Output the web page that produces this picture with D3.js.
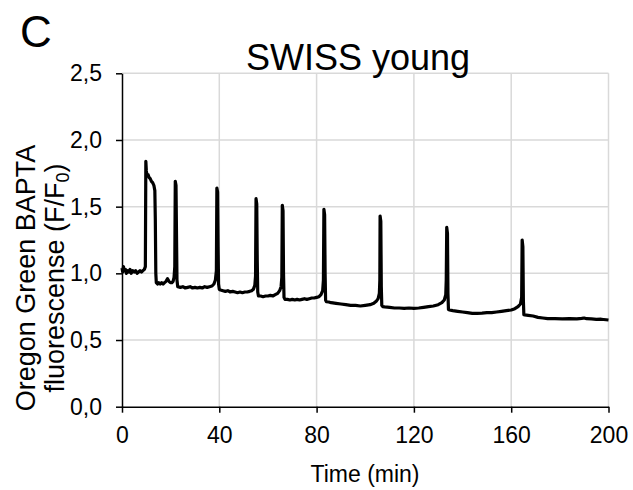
<!DOCTYPE html>
<html>
<head>
<meta charset="utf-8">
<script src="https://cdn.jsdelivr.net/npm/d3@7"></script>
<style>
    body { margin: 0; background: #fff; }
    text { font-family: "Liberation Sans", Arial, sans-serif; fill: #000; }
</style>
</head>
<body>
<svg id="chart-svg" width="633" height="490"></svg>
<script>
// time in minutes
var timeMin = [
    0, 0.3, 0.6, 1, 1.4, 1.8, 2.3, 2.8, 3.3, 3.8, 4.4, 5, 5.6, 6.2, 6.8, 7.4, 8, 8.6, 9.2, 9.6,
    9.8, 10.0, 10.3, 10.7, 11.1, 11.6, 12.1, 12.6, 13.1, 13.5, 13.7, 13.9, 14.1, 14.6, 15.1, 15.7, 16.3, 16.9, 17.5, 18.1, 18.7, 19.3, 19.9, 20.5, 21.0, 21.4, 21.7,
    21.9, 22.2, 22.4, 22.6, 22.9,
    24, 25, 26, 27, 28, 29, 30, 31, 32, 33, 34, 35, 36, 37, 37.8, 38.4, 38.8,
    39.0, 39.3, 39.5, 39.7, 40,
    40.5, 41.5, 42.5, 43.5, 44.5, 45.5, 46.5, 47.5, 48.5, 49.5, 50.5, 51.5, 52.5, 53.3, 54, 54.6, 54.9,
    55.1, 55.4, 55.6, 55.8, 56.1,
    57, 58, 59, 60, 61, 62, 63, 64, 64.8, 65.4, 65.7,
    65.9, 66.2, 66.4, 66.6, 67,
    68, 69, 70, 71, 72, 73, 74, 75, 76, 77, 78, 79, 80, 81, 81.8, 82.5, 82.8,
    83.0, 83.3, 83.5, 83.7, 84,
    85, 86, 88, 90, 92, 94, 96, 98, 100, 102, 103.5, 104.5, 105.3, 105.8, 106.0,
    106.1, 106.4, 106.6, 106.8, 107.2,
    108, 110, 112, 114, 116, 118, 120, 122, 124, 126, 128, 130, 131.5, 132.5, 133.1, 133.3,
    133.5, 133.8, 134.0, 134.2, 134.6,
    136, 138, 140, 142, 144, 146, 148, 150, 152, 154, 156, 158, 160, 161.5, 162.8, 163.8, 164.3,
    164.5, 164.8, 165.0, 165.2, 165.6,
    167, 169, 171, 173, 175, 178, 181, 184, 187, 189, 190, 191, 193, 195, 197, 199, 200
]
// Oregon Green BAPTA F/F0
var fluo = [
    1.04, 1.01, 1.05, 1.02, 1.03, 1.00, 1.02, 1.01, 1.03, 1.00, 1.02, 1.01, 1.02, 1.00, 1.01, 1.02, 1.01, 1.02, 1.03, 1.05,
    1.84, 1.77, 1.73, 1.74, 1.72, 1.71, 1.69, 1.68, 1.66, 1.62, 1.40, 1.00, 0.93, 0.92, 0.93, 0.92, 0.93, 0.92, 0.93, 0.94, 0.96, 0.94, 0.93, 0.93, 0.94, 0.97, 1.05,
    1.69, 1.66, 1.30, 0.95, 0.90,
    0.895, 0.90, 0.89, 0.895, 0.90, 0.89, 0.895, 0.89, 0.895, 0.89, 0.90, 0.895, 0.90, 0.905, 0.92, 0.95, 1.02,
    1.64, 1.61, 1.20, 0.92, 0.88,
    0.875, 0.87, 0.865, 0.87, 0.86, 0.865, 0.86, 0.855, 0.86, 0.855, 0.86, 0.86, 0.865, 0.87, 0.88, 0.91, 0.98,
    1.56, 1.52, 1.10, 0.86, 0.83,
    0.83, 0.825, 0.83, 0.83, 0.835, 0.83, 0.84, 0.85, 0.87, 0.90, 0.97,
    1.51, 1.47, 1.00, 0.82, 0.805,
    0.805, 0.80, 0.805, 0.80, 0.805, 0.80, 0.805, 0.81, 0.805, 0.81, 0.815, 0.815, 0.82, 0.825, 0.84, 0.87, 0.95,
    1.48, 1.44, 1.00, 0.80, 0.787,
    0.785, 0.78, 0.775, 0.77, 0.765, 0.76, 0.76, 0.755, 0.76, 0.765, 0.775, 0.79, 0.81, 0.85, 0.95,
    1.43, 1.39, 0.90, 0.76, 0.75,
    0.748, 0.745, 0.74, 0.74, 0.738, 0.74, 0.738, 0.74, 0.745, 0.75, 0.755, 0.765, 0.78, 0.80, 0.84, 0.95,
    1.345, 1.30, 0.85, 0.73, 0.725,
    0.72, 0.715, 0.71, 0.705, 0.70, 0.70, 0.702, 0.705, 0.705, 0.71, 0.715, 0.72, 0.725, 0.735, 0.75, 0.77, 0.82,
    1.25, 1.20, 0.80, 0.69, 0.688,
    0.685, 0.68, 0.67, 0.665, 0.66, 0.66, 0.658, 0.66, 0.658, 0.662, 0.665, 0.66, 0.658, 0.655, 0.656, 0.652, 0.65
]
var xTicks = [0, 40, 80, 120, 160, 200]
var yTicks = [0, 0.5, 1.0, 1.5, 2.0, 2.5]

var svg = d3.select('#chart-svg')

var conf = { left: 122, right: 608.5, top: 73.3, bottom: 406.7 }

var x = d3.scaleLinear().domain([0, 200]).range([conf.left, conf.right])
var y = d3.scaleLinear().domain([0, 2.5]).range([conf.bottom, conf.top])

// grid
svg.append('g').selectAll('line').data(yTicks.slice(1)).join('line')
    .attr('x1', conf.left).attr('x2', conf.right)
    .attr('y1', d => y(d)).attr('y2', d => y(d))
    .attr('stroke', '#d9d9d9').attr('stroke-width', 1.5)
svg.append('g').selectAll('line').data(xTicks.slice(1)).join('line')
    .attr('x1', d => x(d)).attr('x2', d => x(d))
    .attr('y1', conf.top).attr('y2', conf.bottom)
    .attr('stroke', '#d9d9d9').attr('stroke-width', 1.5)

var fmt = d => d3.format('.1f')(d).replace('.', ',')

// axes
var xAxis = svg.append('g')
    .attr('transform', 'translate(0,' + conf.bottom + ')')
    .call(d3.axisBottom(x).tickValues(xTicks).tickSize(6).tickSizeOuter(0).tickPadding(14))
var yAxis = svg.append('g')
    .attr('transform', 'translate(' + conf.left + ',0)')
    .call(d3.axisLeft(y).tickValues(yTicks).tickFormat(fmt).tickSize(6).tickSizeOuter(0).tickPadding(14))
svg.selectAll('.domain, .tick line').attr('stroke', '#000').attr('stroke-width', 1.5)
xAxis.selectAll('text').attr('font-size', 23).attr('font-family', 'Liberation Sans')
yAxis.selectAll('text').attr('font-size', 23).attr('font-family', 'Liberation Sans')

// trace
var pts = timeMin.map((t, i) => [t, fluo[i]])
var line = d3.line().x(d => x(d[0])).y(d => y(d[1]))
svg.append('path')
    .attr('d', line(pts))
    .attr('fill', 'none')
    .attr('stroke', '#000')
    .attr('stroke-width', 3.2)
    .attr('stroke-linejoin', 'round')

// titles
svg.append('text').attr('x', 20).attr('y', 47)
    .attr('font-size', 44).text('C')
svg.append('text').attr('x', 358).attr('y', 70)
    .attr('text-anchor', 'middle').attr('font-size', 36).text('SWISS young')
svg.append('text').attr('x', 365).attr('y', 482)
    .attr('text-anchor', 'middle').attr('font-size', 23).text('Time (min)')

var yl = svg.append('g').attr('transform', 'translate(0,278) rotate(-90)')
yl.append('text').attr('x', 0).attr('y', 35)
    .attr('text-anchor', 'middle').attr('font-size', 27).text('Oregon Green BAPTA')
var l2 = yl.append('text').attr('x', 0).attr('y', 64)
    .attr('text-anchor', 'middle').attr('font-size', 27)
l2.append('tspan').text('fluorescense (F/F')
l2.append('tspan').attr('font-size', 18).attr('dy', 5).text('0')
l2.append('tspan').attr('dy', -5).text(')')
</script>
</body>
</html>
